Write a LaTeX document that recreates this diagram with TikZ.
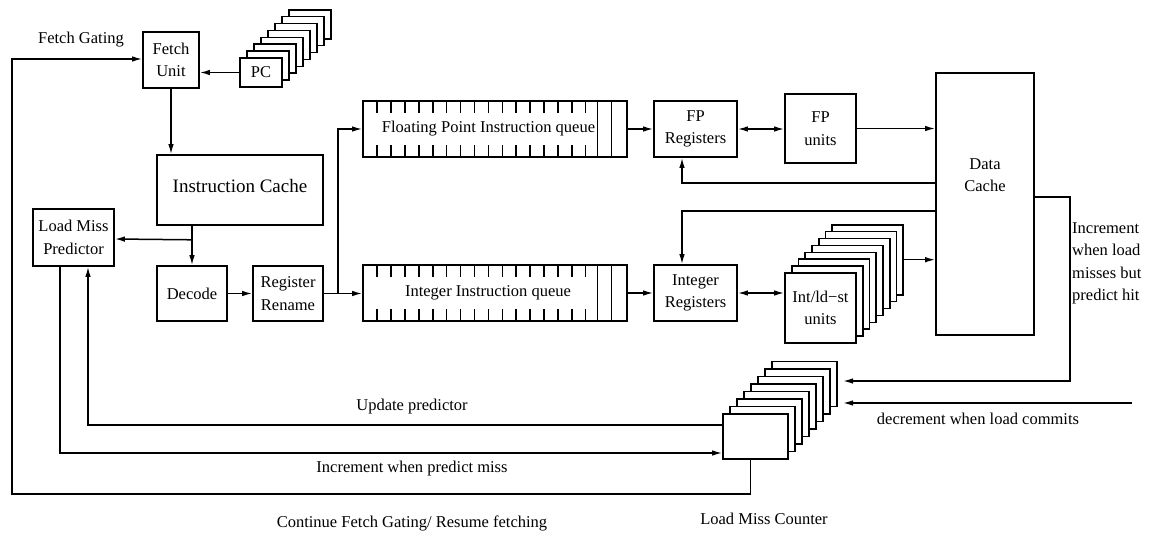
\documentclass[tikz,border=0pt]{standalone}
\usepackage{fontspec}
\setmainfont{Liberation Serif}
\usetikzlibrary{arrows.meta,calc}
\begin{document}
\begin{tikzpicture}[x=1pt,y=-1pt,
  box/.style={draw,line width=1.6pt,fill=white,inner sep=0pt,align=center},
  arr/.style={line width=1.5pt,-{Latex[length=10pt,width=5.5pt]}},
  arr2/.style={line width=1.5pt,{Latex[length=10pt,width=5.5pt]}-{Latex[length=10pt,width=5.5pt]}},
  ln/.style={line width=1.5pt},
  every node/.style={font=\fontsize{16.5}{22.5}\selectfont},
  lbl/.style={inner sep=0pt,align=center}]
\useasboundingbox (0,0) rectangle (1152,533);

% Fetch unit and PC stack
\node[box,minimum width=56pt,minimum height=56pt] (fetch) at (171,60) {Fetch\\Unit};
\foreach \k in {7,6,...,1}
  \node[box,minimum width=42pt,minimum height=29pt] (pc\k) at (261+7*\k,72.5-6.9*\k) {};
\node[box,minimum width=42pt,minimum height=29pt] (pc) at (261,72.5) {PC};

% Instruction cache, predictor, decode, rename
\node[box,minimum width=166pt,minimum height=70pt] (ic) at (240,190) {};
\node[lbl,font=\fontsize{19}{22}\selectfont] (icl) at (240,186) {Instruction Cache};
\node[box,minimum width=81pt,minimum height=57pt] (lmp) at (73.5,237.5) {Load Miss\\Predictor};
\node[box,minimum width=70pt,minimum height=55pt] (dec) at (192,293.5) {Decode};
\node[box,minimum width=70pt,minimum height=55pt] (rr) at (288,293.5) {Register\\Rename};

% Queues
\node[box,minimum width=264pt,minimum height=56pt] (fpq) at (495,129) {};
\node[box,minimum width=264pt,minimum height=56pt] (intq) at (495,293) {};
\foreach \q in {fpq,intq}{
  \foreach \i in {0,...,15}{
    \draw[ln] ($(\q.north west)+(15+13.9*\i,0)$) -- ++(0,13);
    \draw[ln] ($(\q.south west)+(15+13.9*\i,0)$) -- ++(0,-13);
  }
  \draw[ln] ($(\q.north west)+(235.2,0)$) -- ($(\q.south west)+(235.2,0)$);
  \draw[ln] ($(\q.north west)+(249.4,0)$) -- ($(\q.south west)+(249.4,0)$);
}
\node[lbl] (fpql) at (488.5,129) {Floating Point Instruction queue};
\node[lbl] (intql) at (488,293) {Integer Instruction queue};

% Registers and units
\node[box,minimum width=83pt,minimum height=56pt] (fpr) at (695.5,129) {FP\\Registers};
\node[box,minimum width=83pt,minimum height=56pt] (intr) at (695.5,293) {Integer\\Registers};
\node[box,minimum width=71pt,minimum height=69pt] (fpu) at (820.5,128.5) {FP\\units};
\foreach \k in {7,6,...,1}
  \node[box,minimum width=71pt,minimum height=70pt] (ild\k) at (820.5+6.75*\k,308-6.9*\k) {};
\node[box,minimum width=71pt,minimum height=70pt] (ild) at (820.5,308) {Int/ld−st\\units};

% Data cache
\node[box,minimum width=98pt,minimum height=262pt] (dc) at (985,204) {};
\node[lbl] (dcl) at (985,175) {Data\\Cache};

% Load miss counter stack
\foreach \k in {7,6,...,1}
  \node[box,minimum width=65pt,minimum height=45pt] (lmc\k) at (755.5+7*\k,436.5-7.5*\k) {};
\node[box,minimum width=65pt,minimum height=45pt] (lmc) at (755.5,436.5) {};

% Coordinates for free ends
\coordinate (fgL) at (12,494);
\coordinate (lmcA) at (843,381);
\coordinate (lmcB) at (843,403);
\coordinate (decsrc) at (1132,403);

% Connectors
\draw[arr] (pc.west) -- (pc.west -| fetch.east);
\draw[arr] (fetch.south) -- (fetch.south |- ic.north);
\draw[arr] (ic.south -| dec.north) -- (dec.north);
\draw[arr] ($(ic.south -| dec.north)+(0,14)$) -- ($(lmp.east)+(0,1.5)$);
\draw[arr] (dec.east) -- (rr.west);
\draw[arr] (rr.east) -- (rr.east -| intq.west);
\draw[arr] ($(rr.east)+(14,0)$) |- (fpq.west);
\draw[arr] (fpq.east) -- (fpr.west);
\draw[arr] (intq.east) -- (intr.west);
\draw[arr2] (fpr.east) -- (fpr.east -| fpu.west);
\draw[arr2] (intr.east) -- (intr.east -| ild.west);
\draw[arr] (fpu.east) -- (fpu.east -| dc.west);
\draw[arr] (ild7.east) -- (ild7.east -| dc.west);
\draw[arr] ($(dc.west)+(0,-21)$) -| ($(fpr.south)+(-13.5,0)$);
\draw[arr] ($(dc.west)+(0,7)$) -| ($(intr.north)+(-13.5,0)$);
\draw[arr] ($(dc.east)+(0,-7)$) -- ++(35,0) |- (lmcA);
\draw[arr] (decsrc) -- (lmcB);
\draw[arr] ($(lmc.west)+(0,-11.5)$) -| ($(lmp.south)+(14.5,0)$);
\draw[arr] ($(lmp.south)+(-13.5,0)$) |- ($(lmc.west)+(0,16.5)$);
\draw[arr] ($(lmc.south)+(-5,0)$) |- (fgL) |- ($(fetch.west)+(0,-1)$);

% Labels
\node[lbl] (fgl) at (81,40) {Fetch Gating};
\node[lbl] (upl) at (412,407) {Update predictor};
\node[lbl] (ipl) at (412,469) {Increment when predict miss};
\node[lbl] (cfl) at (412,523) {Continue Fetch Gating/ Resume fetching};
\node[lbl] (lmcl) at (764,519) {Load Miss Counter};
\node[lbl] (decl) at (978,419) {decrement when load commits};
\node[lbl,align=left,anchor=north west] (incl) at (1072,222) {Increment\\when load\\misses but\\predict hit};
\end{tikzpicture}
\end{document}
